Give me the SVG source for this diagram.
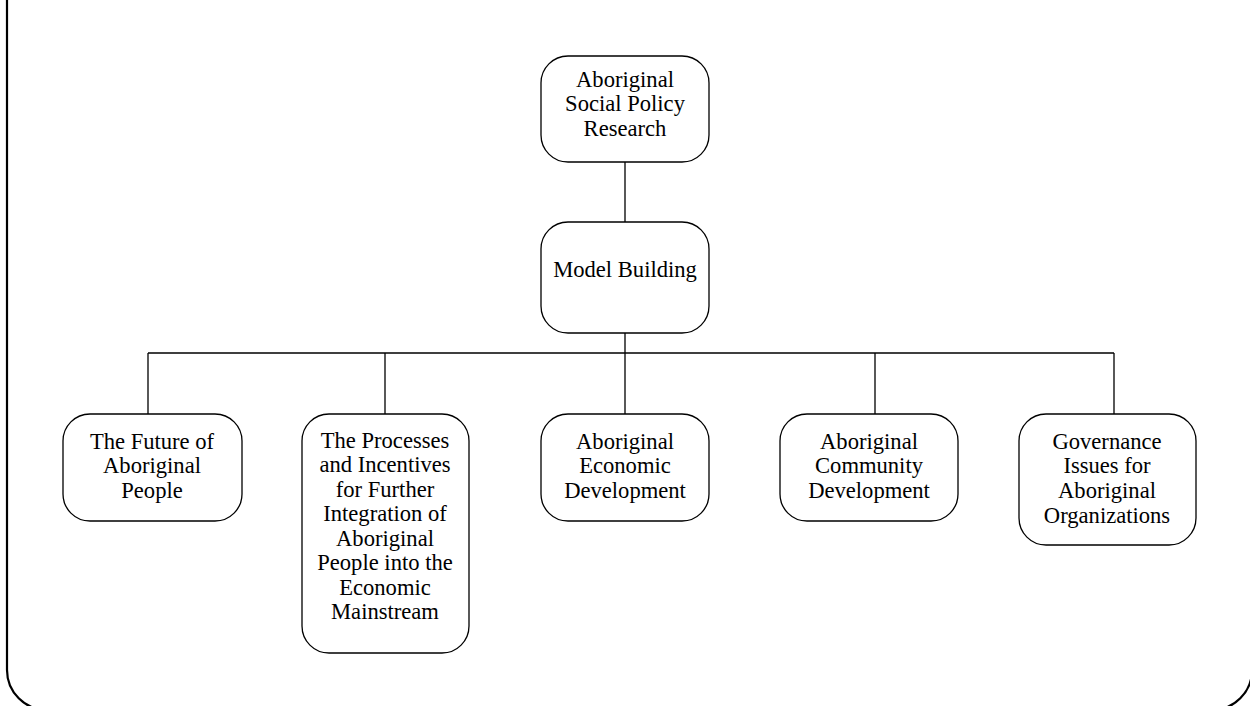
<svg xmlns="http://www.w3.org/2000/svg" width="1250" height="706" viewBox="0 0 1250 706">
<style>
.node{fill:#fff;stroke:#000;stroke-width:1.3}
.t{font-family:'Liberation Serif','Times New Roman',serif;font-size:22.6px;fill:#000;text-anchor:middle}
.c{fill:none;stroke:#000;stroke-width:1.3}
</style>
<rect width="1250" height="706" fill="#fff"/>
<path d="M7,-5 V670 A40,40 0 0 0 47,710 H1212 A40,40 0 0 0 1252,670 V-5" fill="none" stroke="#000" stroke-width="2.2"/>
<g id="connectors">
<path class="c" d="M625,162 V222 M625,333 V353 M148,353 H1114 M148,353 V414 M385,353 V414 M625,353 V414 M875,353 V414 M1114,353 V414"/>
</g>
<g id="n-root">
<rect class="node" x="541" y="56" width="168" height="106" rx="27"/>
<text class="t" x="625" y="87">Aboriginal</text>
<text class="t" x="625" y="111">Social Policy</text>
<text class="t" x="625" y="136">Research</text>
</g>
<g id="n-model">
<rect class="node" x="541" y="222" width="168" height="111" rx="27"/>
<text class="t" x="625" y="277">Model Building</text>
</g>
<g id="n-future">
<rect class="node" x="63" y="414" width="179" height="107" rx="27"/>
<text class="t" x="152" y="449">The Future of</text>
<text class="t" x="152" y="473">Aboriginal</text>
<text class="t" x="152" y="498">People</text>
</g>
<g id="n-processes">
<rect class="node" x="302" y="414" width="167" height="239" rx="27"/>
<text class="t" x="385" y="448">The Processes</text>
<text class="t" x="385" y="472">and Incentives</text>
<text class="t" x="385" y="497">for Further</text>
<text class="t" x="385" y="521">Integration of</text>
<text class="t" x="385" y="546">Aboriginal</text>
<text class="t" x="385" y="570">People into the</text>
<text class="t" x="385" y="595">Economic</text>
<text class="t" x="385" y="619">Mainstream</text>
</g>
<g id="n-economic">
<rect class="node" x="541" y="414" width="168" height="107" rx="27"/>
<text class="t" x="625" y="449">Aboriginal</text>
<text class="t" x="625" y="473">Economic</text>
<text class="t" x="625" y="498">Development</text>
</g>
<g id="n-community">
<rect class="node" x="780" y="414" width="178" height="107" rx="27"/>
<text class="t" x="869" y="449">Aboriginal</text>
<text class="t" x="869" y="473">Community</text>
<text class="t" x="869" y="498">Development</text>
</g>
<g id="n-governance">
<rect class="node" x="1019" y="414" width="177" height="131" rx="27"/>
<text class="t" x="1107" y="449">Governance</text>
<text class="t" x="1107" y="473">Issues for</text>
<text class="t" x="1107" y="498">Aboriginal</text>
<text class="t" x="1107" y="523">Organizations</text>
</g>
</svg>
